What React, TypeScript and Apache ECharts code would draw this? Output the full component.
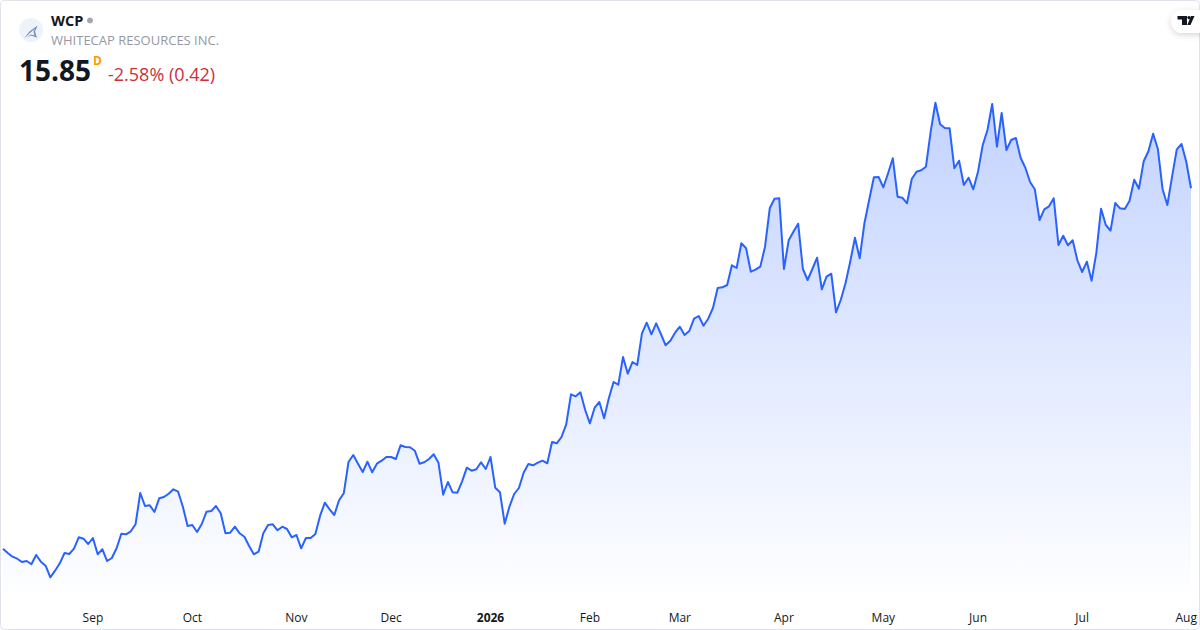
import React, { useEffect, useRef } from "react";
import * as echarts from "echarts";

const ticker = "WCP";
const companyName = "WHITECAP RESOURCES INC.";
const lastPrice = "15.85";
const sessionFlag = "D";
const changeText = "-2.58% (0.42)";

const prices2025: number[] = [
  8.642, 8.556, 8.482, 8.442, 8.376, 8.396, 8.33, 8.516, 8.382, 8.302, 8.07, 8.202, 8.35, 8.556, 8.536, 8.642,
  8.87, 8.842, 8.736, 8.856, 8.53, 8.63, 8.396, 8.456, 8.65, 8.942, 8.93, 8.99, 9.13, 9.756, 9.496, 9.51,
  9.376, 9.65, 9.676, 9.742, 9.83, 9.782, 9.482, 9.096, 9.116, 8.976, 9.136, 9.382, 9.396, 9.496, 9.35, 8.95,
  8.962, 9.082, 8.95, 8.882, 8.696, 8.53, 8.582, 8.95, 9.116, 9.13, 9.01, 9.082, 9.036, 8.87, 8.916, 8.65,
  8.856, 8.856, 8.936, 9.302, 9.562, 9.43, 9.316, 9.61, 9.75, 10.376, 10.516, 10.342, 10.176, 10.382, 10.17, 10.342,
  10.402, 10.476, 10.476, 10.436, 10.71, 10.676, 10.67, 10.602, 10.342, 10.37, 10.436, 10.53, 10.362, 9.722, 9.976, 9.77,
  9.762, 9.99, 10.262, 10.202, 10.23, 10.37, 10.236,
];
const prices2026: number[] = [
  10.476, 9.862, 9.77, 9.142, 9.482, 9.736, 9.856, 10.162, 10.336, 10.31, 10.362, 10.402, 10.35, 10.776, 10.75, 10.876,
  11.13, 11.73, 11.69, 11.77, 11.416, 11.15, 11.462, 11.576, 11.25, 11.65, 11.976, 11.922, 12.476, 12.142, 12.376, 12.316,
  12.95, 13.162, 12.93, 13.15, 12.936, 12.71, 12.802, 12.962, 13.082, 12.916, 12.996, 13.242, 13.296, 13.102, 13.242, 13.456,
  13.856, 13.87, 13.916, 14.31, 14.256, 14.75, 14.65, 14.182, 14.222, 14.282, 14.682, 15.45, 15.642, 15.65, 14.236, 14.81,
  14.982, 15.142, 14.236, 14.016, 14.236, 14.462, 13.83, 14.082, 14.142, 13.37, 13.616, 13.95, 14.382, 14.862, 14.45, 15.15,
  15.616, 16.07, 16.076, 15.87, 16.15, 16.45, 15.682, 15.662, 15.55, 16.036, 16.182, 16.21, 16.282, 16.982, 17.562, 17.13,
  17.056, 17.05, 16.25, 16.402, 15.916, 16.062, 15.83, 16.182, 16.716, 17.016, 17.536, 16.682, 17.356, 16.616, 16.816, 16.856,
  16.462, 16.262, 15.976, 15.83, 15.216, 15.43, 15.49, 15.65, 14.716, 14.902, 14.71, 14.81, 14.41, 14.176, 14.382, 14.002,
  14.562, 15.442, 15.116, 15.002, 15.556, 15.45, 15.436, 15.596, 16.022, 15.842, 16.39, 16.59, 16.942, 16.636, 15.83, 15.516,
  16.082, 16.63, 16.736, 16.382, 15.85,
];
const prices = [...prices2025, ...prices2026];

const tickLabels = ["Sep", "Oct", "Nov", "Dec", "2026", "Feb", "Mar", "Apr", "May", "Jun", "Jul", "Aug"];
const tickIndexes = [19, 40, 62, 82, 103, 124, 143, 165, 186, 206, 228, 250];
const categories = prices.map((_, i) => {
  const t = tickIndexes.indexOf(i);
  return t >= 0 ? tickLabels[t] : String(i);
});

const FONT = '"Open Sans", sans-serif';

echarts.graphic.registerShape(
  "finLogo",
  echarts.graphic.extendPath("M24 38.5L29.5 31.5L37.5 25.5L35 31.5L36.5 36.5L37 38L35.5 37L31 35.5L26.5 37.5L31 34.5L34.5 35.5L33.5 31.5L35 28.5L30.5 32.5Z", {}) as any
);
echarts.graphic.registerShape(
  "tvT",
  echarts.graphic.extendPath("M0 0H9.5V9H4.5V3.5H0ZM13.5 0H17L13 9H9.8Z", {}) as any
);

export default function App() {
  const ref = useRef<HTMLDivElement>(null);
  useEffect(() => {
    const chart = echarts.init(ref.current!, null, { renderer: "svg" });
    chart.setOption({
      animation: false,
      backgroundColor: "#ffffff",
      grid: { left: 3, right: 9, top: 0, bottom: 30 },
      xAxis: {
        type: "category",
        boundaryGap: false,
        data: categories,
        axisLine: { show: false },
        axisTick: { show: false },
        splitLine: { show: false },
        axisLabel: {
          interval: (i: number) => tickIndexes.includes(i),
          hideOverlap: false,
          margin: 11,
          fontFamily: FONT,
          fontSize: 12,
          color: "#131722",
          formatter: (v: string) => (v === "2026" ? "{b|2026}" : v),
          rich: { b: { fontFamily: FONT, fontSize: 12, fontWeight: 700, color: "#131722" } },
        },
      },
      yAxis: { type: "value", show: false, min: 7.616, max: 19.616, splitLine: { show: false } },
      series: [
        {
          type: "line",
          data: prices,
          symbol: "none",
          smooth: false,
          lineStyle: { color: "#2962FF", width: 2, join: "round" },
          areaStyle: {
            origin: "start",
            opacity: 1,
            color: new echarts.graphic.LinearGradient(0, 0, 0, 1, [
              { offset: 0, color: "rgba(41,98,255,0.28)" },
              { offset: 1, color: "rgba(41,98,255,0)" },
            ]),
          },
        },
      ],
      graphic: [
        { type: "rect", silent: true, z: 10, shape: { x: 0.5, y: 0.5, width: 1199, height: 629, r: 4 }, style: { fill: "none", stroke: "#e0e3eb", lineWidth: 1 } },
        { type: "circle", z: 11, shape: { cx: 31, cy: 30, r: 12 }, style: { fill: "#eef2f9" } },
        { type: "finLogo", z: 12, x: 0, y: 0, style: { fill: "#6f8bb8" } },
        { type: "text", z: 12, x: 51, y: 20.5, style: { text: ticker, fontFamily: FONT, fontSize: 14.5, fontWeight: 700, fill: "#131722", verticalAlign: "middle" } },
        { type: "circle", z: 12, shape: { cx: 90, cy: 20.5, r: 3 }, style: { fill: "#a3a6af" } },
        { type: "text", z: 12, x: 51, y: 39.5, style: { text: companyName, fontFamily: FONT, fontSize: 13, fill: "#9598a1", verticalAlign: "middle" } },
        { type: "text", z: 12, x: 19, y: 69.5, style: { text: lastPrice, fontFamily: FONT, fontSize: 28, fontWeight: 700, fill: "#131722", verticalAlign: "middle" } },
        { type: "text", z: 12, x: 93, y: 60.5, style: { text: sessionFlag, fontFamily: FONT, fontSize: 12, fontWeight: 700, fill: "#ff9800", verticalAlign: "middle" } },
        { type: "text", z: 12, x: 108, y: 73.5, style: { text: changeText, fontFamily: FONT, fontSize: 18, fill: "#cc2f3c", verticalAlign: "middle" } },
        { type: "rect", z: 11, shape: { x: 1171, y: 10, width: 40, height: 23, r: 11.5 }, style: { fill: "#ffffff", shadowBlur: 6, shadowColor: "rgba(0,0,0,0.16)", shadowOffsetY: 2 } },
        { type: "tvT", z: 12, x: 1177.5, y: 16, style: { fill: "#131722" } },
        { type: "circle", z: 12, shape: { cx: 1189, cy: 17.6, r: 1.7 }, style: { fill: "#131722" } },
      ],
    });
    return () => chart.dispose();
  }, []);
  return <div ref={ref} style={{ position: "fixed", left: 0, top: 0, width: 1200, height: 630 }} />;
}
